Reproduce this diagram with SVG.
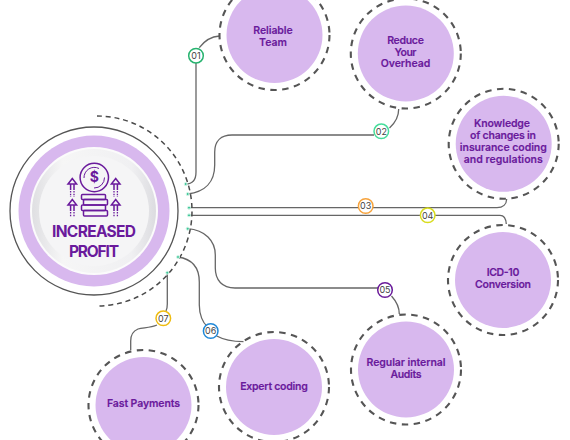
<svg xmlns="http://www.w3.org/2000/svg" width="570" height="440" viewBox="0 0 570 440">
<style>
.c{fill:none;stroke:#666;stroke-width:1.3}
.d{fill:#3fc79a;stroke:#d5f5e8;stroke-width:1}
.b{fill:#fff;stroke-width:1.5}
.n{font:400 9px "Inter","Liberation Sans",sans-serif;fill:#444;text-anchor:middle}
.o{fill:none;stroke:#555;stroke-width:2.1;stroke-dasharray:6.500 5.500}
.f{fill:#d8b8ee}
.t{font:600 10.500px "Inter","Liberation Sans",sans-serif;fill:#6a1a9c;text-anchor:middle;stroke:#6a1a9c;stroke-width:.15}
.h{font-family:"Inter","Liberation Sans",sans-serif;font-size:15.500px;font-weight:700;fill:#6a1a9c;text-anchor:middle}
.i{fill:none;stroke:#6a1a9c;stroke-width:1.500}
.p{fill:none;stroke:#6a1a9c;stroke-width:1.300;stroke-dasharray:1.500 1.200}
</style>
<defs>
<linearGradient id="g" x1="0" y1="0" x2="1" y2="0"><stop offset="0" stop-color="#dfdfe2"/><stop offset=".25" stop-color="#f6f6f6"/><stop offset=".8" stop-color="#f0f0f2"/><stop offset="1" stop-color="#dcdce0"/></linearGradient>
</defs>
<g id="connectors">
<path class="c" d="M185.700 184C192 184 196 180 196 172V63"/>
<path class="c" d="M199.300 47.700C205 40 212 36.500 219.500 36"/>
<path class="c" d="M187.700 194C205 192 214.700 182 214.700 165V152C214.700 141 221 135 232 135H374"/>
<path class="c" d="M389.500 128C395 123 398.700 117 398.700 109"/>
<path class="c" d="M189 207.700H497C503 207.700 506.500 204 506.700 199"/>
<path class="c" d="M189 215.300H500C504 215.300 506 219 506.300 224"/>
<path class="c" d="M187.700 228.700C205 230 215.300 241 215.300 255V268C215.300 280 222 288 235 288H378"/>
<path class="c" d="M391.500 296C396 301 399.300 307 399.300 314"/>
<path class="c" d="M178 257C192 259 199.300 268 199.300 282V305C199.300 315 203 323 207 326"/>
<path class="c" d="M216.700 336C224 340 233 341.500 243.500 341.700"/>
<path class="c" d="M167.300 272.700V304C167.300 307 167 309 166 311"/>
<path class="c" d="M157 325C150 328 143 327.500 138 329C133 331 130.700 335 130.700 341V350"/>
</g>
<g id="main">
<path fill="none" stroke="#4a4a4a" stroke-width="1.500" stroke-dasharray="5 3.800" d="M97 116A95 95 0 0 1 97 306"/>
<circle cx="94" cy="211" r="84" fill="#fff" stroke="#555" stroke-width="1.300"/>
<circle cx="94" cy="211" r="75.500" fill="#d8b8ee"/>
<circle cx="94" cy="211" r="64" fill="#fbfbfb"/>
<circle cx="94" cy="211" r="62" fill="url(#g)"/>
<circle cx="94" cy="211" r="55" fill="#f5f5f6"/>
<g id="icon">
<circle class="i" cx="94.300" cy="177.500" r="14.200"/>
<path fill="none" stroke="#6a1a9c" stroke-width="1" d="M84 178A10.300 10.300 0 0 1 99 168.500M104.500 177.500A10.300 10.300 0 0 1 94 188"/>
<text x="94.300" y="182.300" font-family="Inter,'Liberation Sans',sans-serif" font-size="14" font-weight="700" fill="#6a1a9c" text-anchor="middle">$</text>
<rect class="i" x="81.500" y="194.500" width="24" height="5" rx="1"/>
<rect class="i" x="83.500" y="199.500" width="24" height="5.500" rx="1"/>
<rect class="i" x="81.500" y="205" width="24" height="5.500" rx="1"/>
<rect class="i" x="83.500" y="210.500" width="24" height="5.500" rx="1"/>
<path class="i" d="M74 190V184M70.600 190V184M68 184L72.300 178.500L76.600 184Z"/>
<path class="p" d="M74 191V197M70.600 191V197"/>
<path class="i" d="M74 211V205M70.600 211V205M68 205L72.300 199.500L76.600 205Z"/>
<path class="p" d="M74 212V217M70.600 212V217"/>
<path class="i" d="M117.400 190V184M114 190V184M111.400 184L115.700 178.500L120 184Z"/>
<path class="p" d="M117.400 191V197M114 191V197"/>
<path class="i" d="M117.400 211V205M114 211V205M111.400 205L115.700 199.500L120 205Z"/>
<path class="p" d="M117.400 212V217M114 212V217"/>
</g>
<text class="h" x="94" y="237" textLength="84">INCREASED</text>
<text class="h" x="94" y="256.500" textLength="50">PROFIT</text>
<g id="ports">
<circle class="d" cx="185.700" cy="184" r="1.500"/>
<circle class="d" cx="187.700" cy="194" r="1.500"/>
<circle class="d" cx="189" cy="207.700" r="1.500"/>
<circle class="d" cx="189" cy="215.300" r="1.500"/>
<circle class="d" cx="187.700" cy="228.700" r="1.500"/>
<circle class="d" cx="178" cy="257" r="1.500"/>
<circle class="d" cx="167.300" cy="272.700" r="1.500"/>
</g>
</g>
<g id="badge01"><circle class="b" stroke="#27b36f" cx="196" cy="55.700" r="7.300"/><text class="n" x="196" y="58.900">01</text></g>
<g id="badge02"><circle class="b" stroke="#45dd9b" cx="381.300" cy="131.300" r="7.300"/><text class="n" x="381.300" y="134.500">02</text></g>
<g id="badge03"><circle class="b" stroke="#f7a33c" cx="365.700" cy="206" r="7.300"/><text class="n" x="365.700" y="209.200">03</text></g>
<g id="badge04"><circle class="b" stroke="#d8dc1e" cx="427.700" cy="215.300" r="7.300"/><text class="n" x="427.700" y="218.500">04</text></g>
<g id="badge05"><circle class="b" stroke="#6a1b9a" cx="385" cy="290" r="7.300"/><text class="n" x="385" y="293.200">05</text></g>
<g id="badge06"><circle class="b" stroke="#1f88d8" cx="210.700" cy="331" r="7.300"/><text class="n" x="210.700" y="334.200">06</text></g>
<g id="badge07"><circle class="b" stroke="#eebc10" cx="163.300" cy="318.300" r="7.300"/><text class="n" x="163.300" y="321.500">07</text></g>
<g id="node1"><circle class="o" cx="274.500" cy="35" r="55"/><circle class="f" cx="274.500" cy="35" r="48"/><text class="t" x="273" y="33.500" textLength="39.500">Reliable</text><text class="t" x="273" y="45.500" textLength="28">Team</text></g>
<g id="node2"><circle class="o" cx="405.800" cy="53.500" r="55"/><circle class="f" cx="405.800" cy="53.500" r="48"/><text class="t" x="405.500" y="44" textLength="36.700">Reduce</text><text class="t" x="405.500" y="55.500" textLength="22">Your</text><text class="t" x="405.500" y="67" textLength="49.500">Overhead</text></g>
<g id="node3"><circle class="o" cx="503.700" cy="143.800" r="55"/><circle class="f" cx="503.700" cy="143.800" r="48"/><text class="t" x="502" y="127" textLength="56">Knowledge</text><text class="t" x="503" y="139" textLength="66">of changes in</text><text class="t" x="503.300" y="151" textLength="87">insurance coding</text><text class="t" x="503.300" y="163" textLength="79">and regulations</text></g>
<g id="node4"><circle class="o" cx="503" cy="280" r="55"/><circle class="f" cx="503" cy="280" r="48"/><text class="t" x="503" y="275.500" textLength="32.700">ICD-10</text><text class="t" x="503" y="287.500" textLength="56">Conversion</text></g>
<g id="node5"><circle class="o" cx="406" cy="369.500" r="55"/><circle class="f" cx="406" cy="369.500" r="48"/><text class="t" x="406" y="366" textLength="79">Regular internal</text><text class="t" x="406" y="378.300" textLength="31">Audits</text></g>
<g id="node6"><circle class="o" cx="274" cy="387" r="55"/><circle class="f" cx="274" cy="387" r="48"/><text class="t" x="274" y="389.500" textLength="67.700">Expert coding</text></g>
<g id="node7"><circle class="o" cx="143.500" cy="405" r="55"/><circle class="f" cx="143.500" cy="405" r="48"/><text class="t" x="143.500" y="406.500" textLength="73">Fast Payments</text></g>
</svg>
